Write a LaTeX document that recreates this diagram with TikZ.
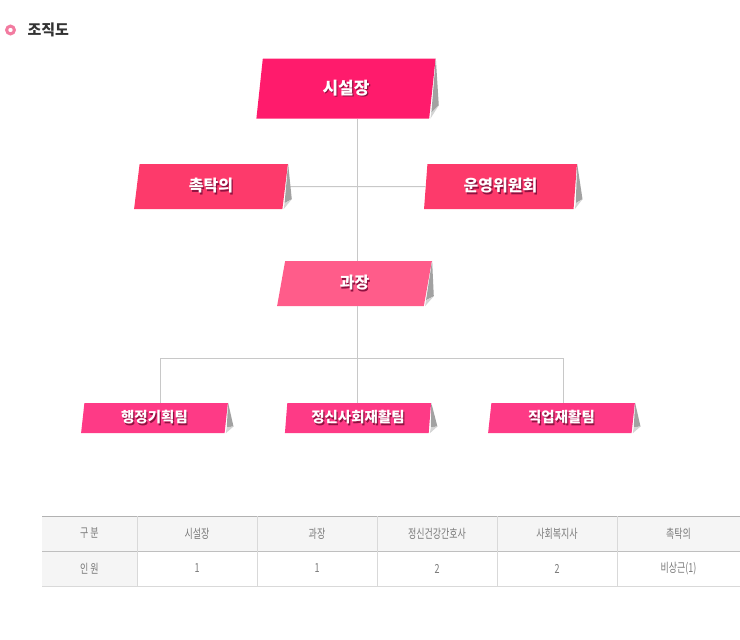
\documentclass[tikz,border=0pt]{standalone}
\usepackage{fontspec}
\setmainfont{Noto Sans CJK KR}
\newfontfamily\thinkr{Noto Sans CJK KR}[FakeStretch=0.72]
\usepackage{tikz}
\usetikzlibrary{shapes.geometric, calc}
\definecolor{chiefpink}{HTML}{FF1B6C}
\definecolor{advpink}{HTML}{FD3A6B}
\definecolor{headpink}{HTML}{FF5C8A}
\definecolor{teampink}{HTML}{FE3A86}
\definecolor{flapdark}{HTML}{A2A2A2}
\definecolor{flaplight}{HTML}{D4D4D4}
\definecolor{textshade}{HTML}{8E1240}
\definecolor{linegray}{HTML}{C8C8C8}
\definecolor{tablegray}{HTML}{7A7A7A}
\definecolor{headbg}{HTML}{F5F5F5}
\definecolor{titlepink}{HTML}{F27BA0}
\tikzstyle{tag} = [trapezium, trapezium left angle=84, trapezium right angle=96, trapezium stretches=true, text=white, inner sep=0pt]
\tikzstyle{link} = [draw=linegray, line width=1pt]
\newcommand{\shadowtext}[1]{\rlap{\kern1.2pt\raisebox{-1.2pt}{\textcolor{textshade}{#1}}}#1}

\begin{document}
\begin{tikzpicture}[
        x=1pt, y=-1pt,
        chief/.style={tag, fill=chiefpink, minimum width=180pt, minimum height=60pt, font=\fontsize{17}{20}\selectfont\bfseries},
        adv/.style={tag, fill=advpink, minimum width=154pt, minimum height=45pt, font=\fontsize{16}{19}\selectfont\bfseries},
        head/.style={tag, fill=headpink, minimum width=155pt, minimum height=45pt, font=\fontsize{16}{19}\selectfont\bfseries},
        team/.style={tag, fill=teampink, minimum width=147pt, minimum height=30pt, font=\fontsize{14.5}{17}\selectfont\bfseries},
        cell/.style={text=tablegray, inner sep=0pt, font=\thinkr\fontsize{12.5}{15}\selectfont}
        ]

        \useasboundingbox (0,0) rectangle (740,640);

        \draw[titlepink, line width=3pt] (10.5,30) circle (3.9pt);
        \node[anchor=west, text=black!80, font=\fontsize{15}{18}\selectfont\bfseries] (title) at (24,30) {조직도};

        \coordinate (spine) at (357,358);
        \coordinate (left) at (160,358);
        \coordinate (right) at (563,358);

        \node[chief] (director) at (346,88.5) {\shadowtext{시설장}};
        \node[adv] (doctor) at (211,186.5) {\shadowtext{촉탁의}};
        \node[adv] (board) at (500.5,186.5) {\shadowtext{운영위원회}};
        \node[head] (manager) at (354.5,283.5) {\shadowtext{과장}};
        \node[team] (planning) at (154.5,418) {\shadowtext{행정기획팀}};
        \node[team] (rehab) at (358,418) {\shadowtext{정신사회재활팀}};
        \node[team] (vocation) at (561.5,418) {\shadowtext{직업재활팀}};

        \draw[link] (doctor.east) -- (board.west);
        \draw[link] (director.south -| spine) -- (manager.north -| spine);
        \draw[link] (manager.south -| spine) -- (spine);
        \draw[link] (left) -- (right);
        \draw[link] (left) -- (planning.north -| left);
        \draw[link] (spine) -- (rehab.north -| spine);
        \draw[link] (right) -- (vocation.north -| right);

        \foreach \n in {director, doctor, board, manager, planning, rehab, vocation} {
            \coordinate (tip) at ($(\n.top right corner)!0.78!(\n.bottom right corner)+(8,0)$);
            \coordinate (fold) at ($(\n.bottom right corner)+(2,-6)$);
            \fill[flapdark] (\n.top right corner) -- (tip) -- (fold) -- cycle;
            \fill[flaplight] (tip) -- ($(\n.bottom right corner)+(1,0)$) -- (fold) -- cycle;
        }

        \fill[headbg] (42,516) rectangle (740,551);
        \fill[headbg] (42,551) rectangle (137,586);
        \draw[black!30, line width=1pt] (42,516) -- (740,516);
        \draw[black!25, line width=1pt] (42,551) -- (740,551);
        \draw[black!15, line width=1pt] (42,586) -- (740,586);
        \foreach \x in {137,257,377,497,617}
            \draw[black!15, line width=1pt] (\x,516) -- (\x,586);

        \foreach \cx/\top/\bottom [count=\i] in {89.5/구 분/인 원, 197/시설장/1, 317/과장/1, 437/정신건강간호사/2, 557/사회복지사/2, 678.5/촉탁의/비상근(1)} {
            \node[cell] (top\i) at (\cx,533.5) {\top};
            \node[cell] (bottom\i) at (\cx,568.5) {\bottom};
        }

    \end{tikzpicture}
\end{document}
